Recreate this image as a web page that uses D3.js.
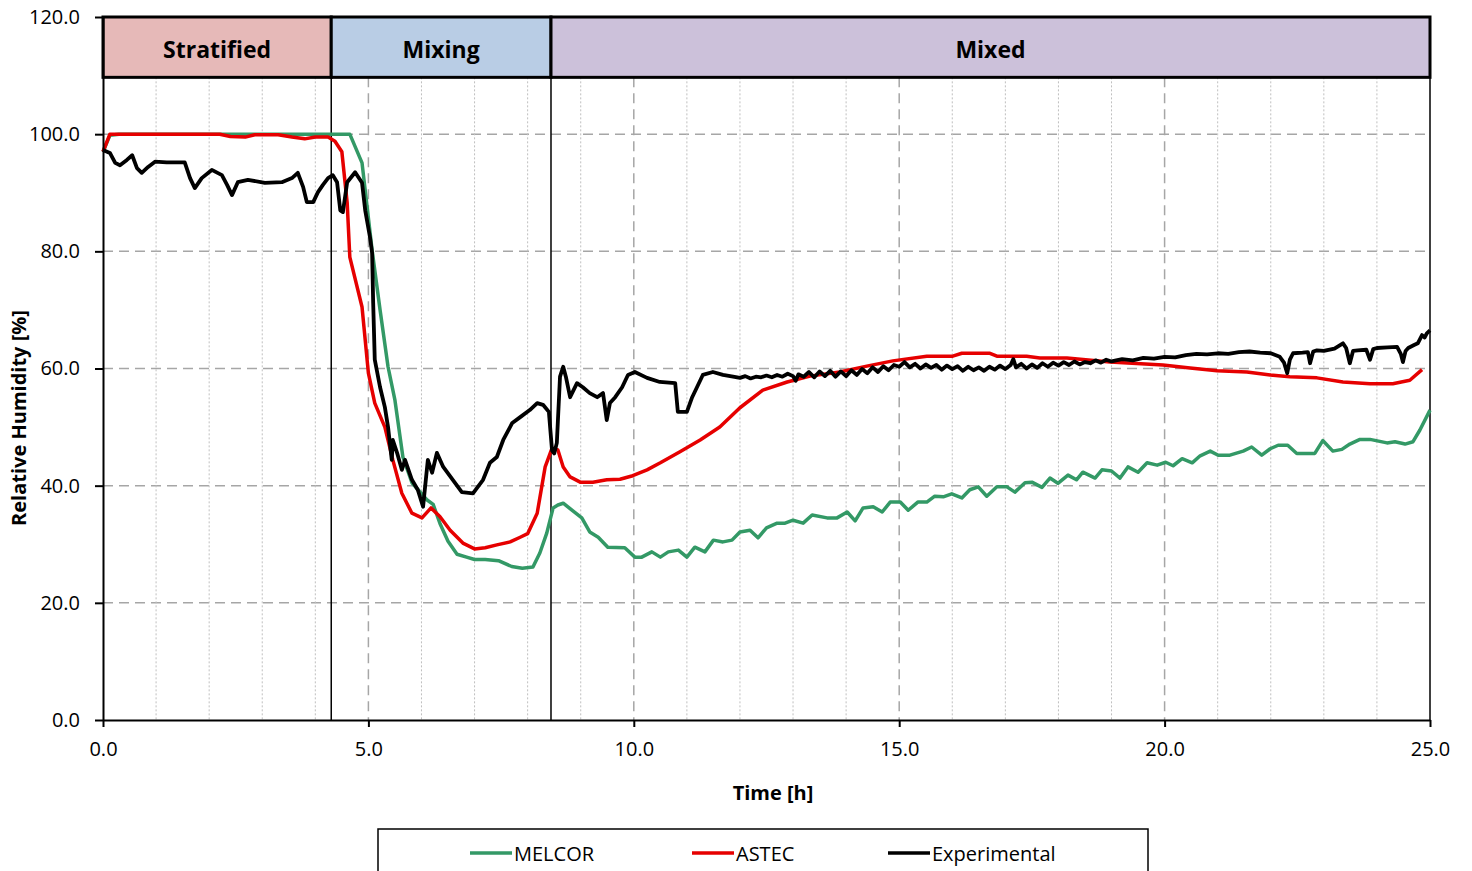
<!DOCTYPE html>
<html><head><meta charset="utf-8">
<script src="https://cdnjs.cloudflare.com/ajax/libs/d3/7.8.5/d3.min.js"></script>
<style>
html,body{margin:0;padding:0;background:#fff;}
svg{display:block;font-family:"Open Sans",Lato,sans-serif;}
</style></head>
<body><svg id="chart" width="1472" height="871"></svg>
<script>
// ---------- DATA ----------
const phaseNames = ["Stratified", "Mixing", "Mixed"];
const phaseStart = [0, 4.3, 8.44];
const phaseEnd = [4.3, 8.44, 25];
const phaseColors = ["#e6b9b8", "#b9cde5", "#ccc1da"];

const xTicks = [0, 5, 10, 15, 20, 25];
const xMinorTicks = [1,2,3,4,6,7,8,9,11,12,13,14,16,17,18,19,21,22,23,24];
const yTicks = [0, 20, 40, 60, 80, 100, 120];

const seriesNames = ["MELCOR", "ASTEC", "Experimental"];
const seriesColors = ["#339966", "#e60000", "#000000"];

const melcor = [
[0,97],[0.13,99.8],[0.3,100],[4.65,100],[4.88,95.1],[5.07,80.2],[5.22,70],[5.37,60.3],[5.5,54.6],[5.65,44.9],
[5.82,40.5],[6.1,37.6],[6.22,36.8],[6.35,33.5],[6.5,30.5],[6.67,28.3],[6.85,27.8],[7.0,27.4],[7.2,27.4],[7.45,27.2],
[7.7,26.2],[7.9,25.9],[8.1,26.1],[8.23,28.5],[8.36,31.9],[8.48,36.2],[8.57,36.7],[8.67,37],[9.02,34.5],[9.17,32.1],
[9.33,31.2],[9.51,29.5],[9.83,29.4],[10.02,27.8],[10.15,27.8],[10.34,28.7],[10.5,27.8],[10.65,28.7],[10.84,29],[11.0,27.8],
[11.15,29.5],[11.34,28.7],[11.5,30.7],[11.68,30.4],[11.85,30.7],[12.0,32.1],[12.19,32.4],[12.34,31.1],[12.5,32.8],[12.7,33.6],
[12.85,33.6],[13.0,34.1],[13.19,33.6],[13.36,35],[13.64,34.5],[13.83,34.5],[14.02,35.5],[14.17,34],[14.32,36.2],[14.51,36.4],
[14.68,35.5],[14.83,37.2],[15.02,37.2],[15.17,35.8],[15.35,37.2],[15.52,37.2],[15.67,38.2],[15.83,38.1],[15.99,38.6],[16.18,37.9],
[16.33,39.3],[16.49,39.8],[16.65,38.2],[16.84,39.8],[17.03,39.8],[17.18,38.9],[17.37,40.5],[17.5,40.6],[17.69,39.7],[17.84,41.3],
[17.99,40.4],[18.18,41.8],[18.34,41],[18.46,42.3],[18.69,41.3],[18.82,42.7],[19.0,42.5],[19.16,41.3],[19.31,43.2],[19.5,42.3],
[19.67,43.9],[19.86,43.5],[20.02,44.0],[20.16,43.4],[20.33,44.6],[20.52,43.9],[20.67,45.1],[20.86,45.9],[21.01,45.2],[21.23,45.2],
[21.48,45.9],[21.64,46.6],[21.83,45.2],[21.99,46.3],[22.14,46.9],[22.32,46.9],[22.49,45.5],[22.83,45.5],[22.98,47.7],[23.17,45.9],
[23.34,46.2],[23.49,47.1],[23.68,47.9],[23.87,47.9],[24.19,47.3],[24.34,47.5],[24.53,47.1],[24.68,47.5],[24.81,49.5],[25.0,52.9]
];

const astec = [
[0,97],[0.13,100],[2.2,100],[2.4,99.6],[2.68,99.5],[2.86,99.9],[3.3,99.9],[3.56,99.5],[3.8,99.2],[4.0,99.5],
[4.24,99.5],[4.37,98.8],[4.5,97],[4.6,88.3],[4.65,79],[4.88,70.5],[5.0,59.2],[5.12,54.1],[5.31,50],[5.46,44.4],
[5.63,38.7],[5.82,35.3],[6.01,34.5],[6.18,36.2],[6.35,34.7],[6.54,32.4],[6.78,30.2],[7.0,29.2],[7.2,29.4],[7.42,29.9],
[7.67,30.4],[7.86,31.2],[8.0,31.8],[8.18,35.3],[8.33,43.2],[8.46,46.4],[8.57,46.1],[8.67,43.2],[8.8,41.5],[8.99,40.6],
[9.23,40.6],[9.49,41.0],[9.74,41.1],[9.98,41.7],[10.25,42.7],[10.5,43.9],[10.87,45.8],[11.25,47.8],[11.62,50],[12.0,53.3],
[12.43,56.3],[12.89,57.7],[13.32,58.7],[13.88,59.4],[14.39,60.4],[14.88,61.3],[15.52,62.1],[16.01,62.1],[16.18,62.6],[16.71,62.6],
[16.84,62.1],[17.4,62.1],[17.65,61.8],[18.16,61.8],[18.97,61.1],[19.97,60.6],[20.48,60.1],[20.99,59.6],[21.55,59.4],[21.99,58.9],
[22.36,58.6],[22.87,58.4],[23.36,57.7],[23.87,57.4],[24.3,57.4],[24.62,58],[24.85,59.8]
];

const experimental = [
[0,97.3],[0.13,96.8],[0.23,95.1],[0.32,94.7],[0.45,95.6],[0.55,96.4],[0.64,94.2],[0.73,93.4],[0.85,94.4],[0.98,95.3],
[1.2,95.2],[1.54,95.2],[1.64,92.5],[1.73,90.8],[1.86,92.5],[2.05,93.9],[2.24,93.0],[2.34,91.3],[2.43,89.6],[2.54,91.8],
[2.73,92.2],[3.05,91.7],[3.37,91.8],[3.56,92.5],[3.67,93.4],[3.77,91.0],[3.84,88.4],[3.96,88.4],[4.05,90.1],[4.14,91.3],
[4.24,92.5],[4.33,93.0],[4.41,91.8],[4.47,87.0],[4.52,86.7],[4.6,91.8],[4.75,93.5],[4.88,91.7],[4.94,87.0],[5.03,82.4],
[5.07,79.7],[5.09,71.2],[5.12,61.5],[5.22,56.8],[5.31,53.4],[5.37,50],[5.44,44.4],[5.46,47.8],[5.54,45.6],[5.63,42.7],
[5.69,44.4],[5.82,41],[5.93,39.3],[6.03,36.4],[6.12,44.4],[6.2,42.2],[6.29,45.6],[6.41,43.2],[6.59,41],[6.76,38.9],
[6.97,38.7],[7.16,41],[7.29,43.9],[7.42,44.9],[7.54,47.8],[7.71,50.7],[7.86,51.7],[8.04,52.9],[8.18,54.1],[8.29,53.8],
[8.4,52.6],[8.46,46],[8.5,45.5],[8.55,47.3],[8.61,58.6],[8.67,60.3],[8.72,58.6],[8.8,55.1],[8.93,57.5],[9.04,56.8],
[9.17,55.8],[9.31,55.1],[9.42,55.8],[9.49,51.2],[9.55,54.1],[9.65,55.1],[9.78,56.8],[9.89,58.9],[10.02,59.4],[10.25,58.4],
[10.49,57.7],[10.78,57.5],[10.83,52.6],[11.0,52.6],[11.1,55.1],[11.19,56.8],[11.3,58.9],[11.49,59.4],[11.68,58.9],[11.87,58.6],
[12.0,58.4],[12.1,58.7],[12.2,58.3],[12.3,58.6],[12.4,58.5],[12.5,58.8],[12.6,58.5],[12.7,58.9],[12.8,58.6],[12.9,59.1],
[13.0,58.7],[13.05,57.9],[13.1,59.0],[13.2,58.6],[13.3,59.4],[13.4,58.5],[13.5,59.5],[13.6,58.7],[13.7,59.6],[13.8,58.6],
[13.9,59.5],[14.0,58.7],[14.1,59.7],[14.2,58.9],[14.3,59.9],[14.4,59.2],[14.5,60.2],[14.6,59.4],[14.7,60.4],[14.8,59.7],
[14.9,60.6],[15.0,60.3],[15.1,61.1],[15.2,60.2],[15.3,60.8],[15.4,60.0],[15.5,60.7],[15.6,60.1],[15.7,60.6],[15.8,59.8],
[15.9,60.5],[16.0,59.9],[16.1,60.4],[16.2,59.6],[16.3,60.3],[16.4,59.7],[16.5,60.2],[16.6,59.6],[16.7,60.3],[16.8,59.8],
[16.9,60.5],[17.0,59.9],[17.1,60.6],[17.15,61.6],[17.2,60.2],[17.3,60.8],[17.4,60.0],[17.5,60.7],[17.6,60.1],[17.7,60.9],
[17.8,60.3],[17.9,61.0],[18.0,60.5],[18.1,61.1],[18.2,60.6],[18.3,61.2],[18.4,60.7],[18.5,61.1],[18.6,60.9],[18.7,61.4],
[18.8,61.0],[18.9,61.5],[19.0,61.2],[19.2,61.6],[19.4,61.4],[19.6,61.8],[19.8,61.7],[20.0,62.0],[20.2,61.9],[20.4,62.3],
[20.6,62.5],[20.8,62.4],[21.0,62.6],[21.2,62.5],[21.4,62.8],[21.6,62.9],[21.8,62.7],[22.0,62.6],[22.17,62.0],[22.25,61.0],
[22.31,59.2],[22.36,61.5],[22.42,62.6],[22.6,62.7],[22.7,62.8],[22.74,60.9],[22.8,62.9],[22.87,63.1],[23.0,63.0],[23.2,63.4],
[23.36,64.3],[23.42,63.5],[23.49,60.9],[23.55,63.0],[23.64,63.1],[23.8,63.2],[23.87,61.5],[23.93,63.3],[24.0,63.5],[24.2,63.6],
[24.38,63.7],[24.45,62.5],[24.49,61.1],[24.54,63.0],[24.59,63.5],[24.7,64.0],[24.77,64.3],[24.85,65.7],[24.9,65.3],[24.94,66.0],
[25.0,66.5]
];

const boxTopValue = 120, boxBottomValue = 109.7;

// ---------- CHART ----------
const svg = d3.select("#chart");
const x = d3.scaleLinear().domain([0, 25]).range([103, 1430]);
const y = d3.scaleLinear().domain([0, 120]).range([720, 17]);
const fmt = d3.format(".1f");

const grid = svg.append("g");
grid.selectAll("line.h").data(yTicks.filter(v => v > 0 && v < 120)).join("line")
  .attr("x1", x(0)).attr("x2", x(25)).attr("y1", d => y(d)).attr("y2", d => y(d))
  .attr("stroke", "#a6a6a6").attr("stroke-width", 1.5).attr("stroke-dasharray", "10,6");
grid.selectAll("line.vm").data(xMinorTicks).join("line")
  .attr("x1", d => x(d)).attr("x2", d => x(d)).attr("y1", y(boxBottomValue)).attr("y2", y(0))
  .attr("stroke", "#bfbfbf").attr("stroke-width", 1).attr("stroke-dasharray", "2,2");
grid.selectAll("line.vM").data(xTicks.filter(v => v > 0 && v < 25)).join("line")
  .attr("x1", d => x(d)).attr("x2", d => x(d)).attr("y1", y(boxBottomValue)).attr("y2", y(0))
  .attr("stroke", "#a6a6a6").attr("stroke-width", 1.5).attr("stroke-dasharray", "10,6");

svg.append("g").selectAll("line").data(phaseEnd).join("line")
  .attr("x1", d => x(d)).attr("x2", d => x(d)).attr("y1", y(boxBottomValue)).attr("y2", y(0))
  .attr("stroke", "#000").attr("stroke-width", 1.5);

const line = d3.line().x(d => x(d[0])).y(d => y(d[1]));
const allSeries = [melcor, astec, experimental];
const widths = [3.5, 3.5, 3.8];
svg.append("g").selectAll("path").data(allSeries).join("path")
  .attr("d", line).attr("fill", "none")
  .attr("stroke", (d, i) => seriesColors[i]).attr("stroke-width", (d, i) => widths[i])
  .attr("stroke-linejoin", "round");

const boxes = svg.append("g");
boxes.selectAll("rect").data(phaseNames).join("rect")
  .attr("x", (d, i) => x(phaseStart[i])).attr("width", (d, i) => x(phaseEnd[i]) - x(phaseStart[i]))
  .attr("y", y(boxTopValue)).attr("height", y(boxBottomValue) - y(boxTopValue))
  .attr("fill", (d, i) => phaseColors[i]).attr("stroke", "#000").attr("stroke-width", 3);
boxes.selectAll("text").data(phaseNames).join("text")
  .attr("x", (d, i) => (x(phaseStart[i]) + x(phaseEnd[i])) / 2)
  .attr("y", (y(boxTopValue) + y(boxBottomValue)) / 2 + 2)
  .attr("text-anchor", "middle").attr("dominant-baseline", "central")
  .attr("font-size", 23).attr("font-weight", "bold").attr("fill", "#000")
  .text(d => d);

const yAxis = svg.append("g").attr("transform", `translate(${x(0)},0)`)
  .call(d3.axisLeft(y).tickValues(yTicks).tickFormat(fmt).tickSize(8).tickSizeOuter(0).tickPadding(15));
const xAxis = svg.append("g").attr("transform", `translate(0,${y(0)})`)
  .call(d3.axisBottom(x).tickValues(xTicks).tickFormat(fmt).tickSize(7).tickSizeOuter(0).tickPadding(15));
[yAxis, xAxis].forEach(a => {
  a.select(".domain").attr("stroke", "#000").attr("stroke-width", 2);
  a.selectAll(".tick line").attr("stroke", "#000").attr("stroke-width", 2);
  a.selectAll(".tick text").attr("font-size", 20).attr("fill", "#000").attr("font-family", "'Open Sans', sans-serif");
});

svg.append("text").attr("x", 773).attr("y", 792).attr("text-anchor", "middle")
  .attr("dominant-baseline", "central").attr("font-size", 20).attr("font-weight", "bold").text("Time [h]");
svg.append("text").attr("transform", "translate(18,418) rotate(-90)").attr("text-anchor", "middle")
  .attr("dominant-baseline", "central").attr("font-size", 20).attr("font-weight", "bold").text("Relative Humidity [%]");

const legend = svg.append("g");
legend.append("rect").attr("x", 378).attr("y", 829).attr("width", 770).attr("height", 50)
  .attr("fill", "#fff").attr("stroke", "#000").attr("stroke-width", 1.5);
const legX = [470, 692, 888];
const leg = legend.selectAll("g.item").data(seriesNames).join("g").attr("transform", (d, i) => `translate(${legX[i]},853)`);
leg.append("line").attr("x1", 0).attr("x2", 42).attr("y1", 0).attr("y2", 0)
  .attr("stroke", (d, i) => seriesColors[i]).attr("stroke-width", 3.5);
leg.append("text").attr("x", 44).attr("y", 0).attr("dominant-baseline", "central")
  .attr("font-size", 20).attr("fill", "#000").text(d => d);
</script>
</body></html>
